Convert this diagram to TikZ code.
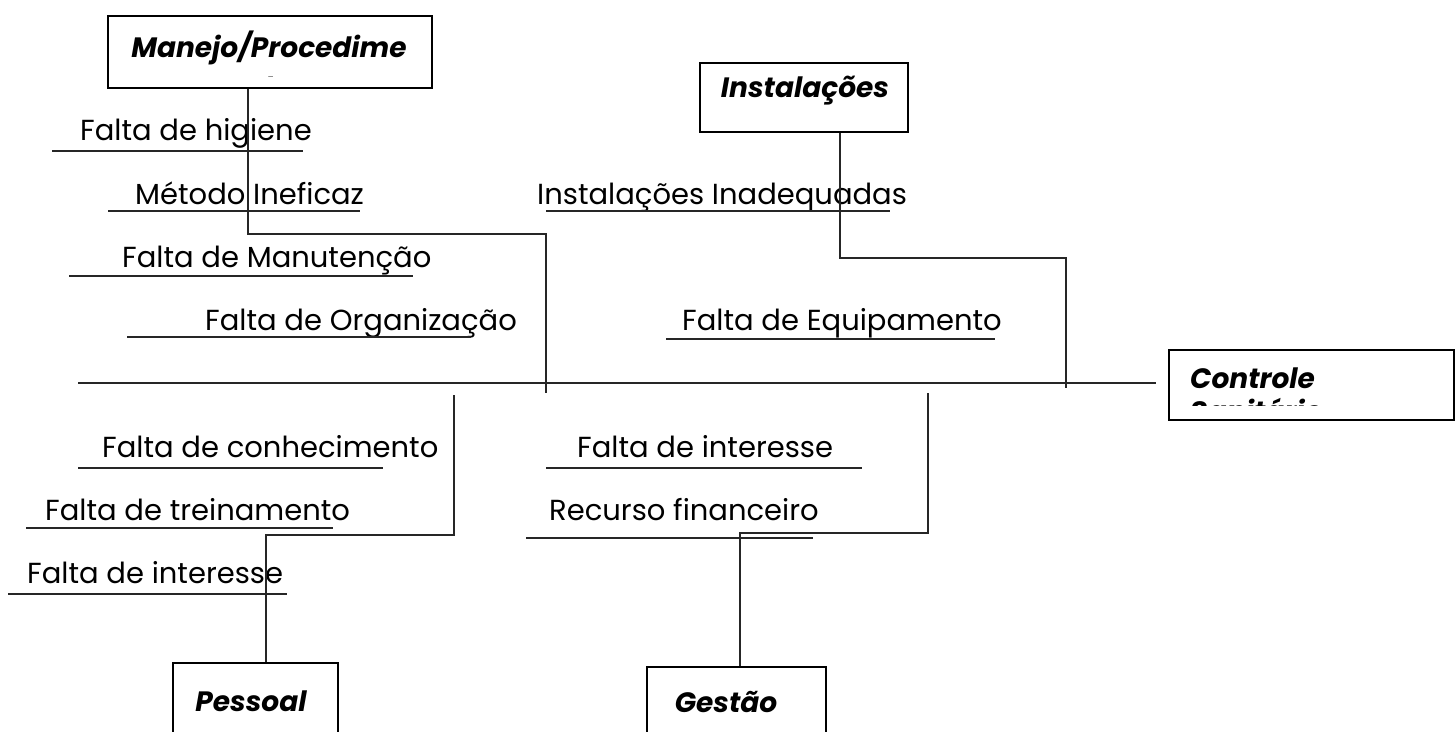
\documentclass[tikz,border=0pt]{standalone}
\usepackage{fontspec}
\setmainfont{Poppins}
\tikzset{
  cause/.style={anchor=base west, inner sep=0pt, font=\fontsize{29}{35}\selectfont},
  cattext/.style={anchor=base, inner sep=0pt, font=\fontsize{28}{34}\selectfont\bfseries\itshape},
  catbox/.style={draw, line width=2.4pt, inner sep=0pt, anchor=north west},
  bone/.style={draw=black!85, line width=1.2pt},
}
\begin{document}
\begin{tikzpicture}[x=1pt, y=-1pt]
      \clip (0,0) rectangle (1455,731);
      % category boxes
      \node[catbox, minimum width=324, minimum height=72] (manejo) at (107,15) {};
      \node[catbox, minimum width=208, minimum height=69] (instalacoes) at (699,62) {};
      \node[catbox, minimum width=285, minimum height=70] (controle) at (1168,349) {};
      \node[catbox, minimum width=165, minimum height=100] (pessoal) at (172,662) {};
      \node[catbox, minimum width=179, minimum height=100] (gestao) at (646,666) {};
      \begin{scope}
        \clip (107,15) rectangle (431,76);
        \node[cattext] (manejo1) at (269,57) {Manejo/Procedime};
        \node[cattext] (manejo2) at (269,96) {nto};
      \end{scope}
      \begin{scope}
        \clip (1168,349) rectangle (1453,405);
        \node[cattext, anchor=base west] (controle1) at (1190,388) {Controle};
        \node[cattext, anchor=base west] (controle2) at (1190,421) {Sanitário};
      \end{scope}
      \node[cattext] (instalacoes1) at (805,97) {Instalações};
      \node[cattext] (pessoal1) at (251,711) {Pessoal};
      \node[cattext] (gestao1) at (726,712) {Gestão};
      % causes
      \draw
        (80,140) node[cause] (higiene){Falta de higiene}
        (135,204) node[cause] (metodo){Método Ineficaz}
        (122,267) node[cause] (manutencao){Falta de Manutenção}
        (205,330) node[cause] (organizacao){Falta de Organização}
        (537,204) node[cause] (inadequadas){Instalações Inadequadas}
        (682,330) node[cause] (equipamento){Falta de Equipamento}
        (102,457) node[cause] (conhecimento){Falta de conhecimento}
        (45,520) node[cause] (treinamento){Falta de treinamento}
        (27,583) node[cause] (interessep){Falta de interesse}
        (577,457) node[cause] (interesseg){Falta de interesse}
        (549,520) node[cause] (recurso){Recurso financeiro};
      \begin{scope}[bone]
        \draw (52,151) -- (303,151);
        \draw (108,211) -- (360,211);
        \draw (69,276) -- (413,276);
        \draw (127,337) -- (471,337);
        \draw (546,211) -- (890,211);
        \draw (666,339) -- (995,339);
        \draw (78,468) -- (383,468);
        \draw (26,528) -- (333,528);
        \draw (8,594) -- (287,594);
        \draw (546,468) -- (862,468);
        \draw (526,538) -- (813,538);
      \end{scope}
      % spine and bones
      \coordinate (tail) at (78,383);
      \coordinate (head) at (1156,383);
      \coordinate (mjbend) at (248,234);
      \coordinate (mjend) at (546,393);
      \coordinate (inbend) at (840,258);
      \coordinate (inend) at (1066,388);
      \coordinate (psstart) at (454,395);
      \coordinate (psbend) at (266,535);
      \coordinate (gsstart) at (928,393);
      \coordinate (gsbend) at (740,533);
      \begin{scope}[bone]
        \draw (tail) -- (head);
        \draw (manejo.south -| mjbend) -- (mjbend) -- (mjbend -| mjend) -- (mjend);
        \draw (instalacoes.south -| inbend) -- (inbend) -- (inbend -| inend) -- (inend);
        \draw (psstart) -- (psstart |- psbend) -- (psbend) -- (pessoal.north -| psbend);
        \draw (gsstart) -- (gsstart |- gsbend) -- (gsbend) -- (gestao.north -| gsbend);
      \end{scope}
    \end{tikzpicture}
\end{document}
